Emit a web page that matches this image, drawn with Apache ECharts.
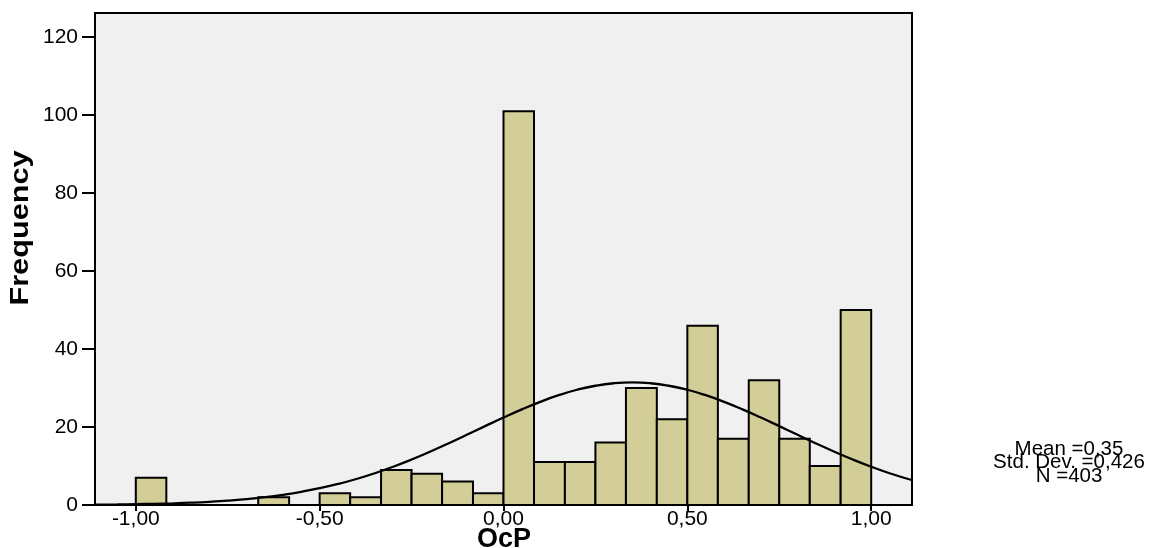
<!DOCTYPE html>
<html>
<head>
<meta charset="utf-8">
<script src="https://cdn.jsdelivr.net/npm/echarts@6/dist/echarts.min.js"></script>
<style>
html,body{margin:0;padding:0;background:#fff;}
#chart{width:1152px;height:548px;}
</style>
</head>
<body>
<div id="chart"></div>
<script>
// Histogram bin edges (bin width 1/12)
const binEdges = [-1.000, -0.917, -0.833, -0.750, -0.667, -0.583, -0.500, -0.417, -0.333, -0.250, -0.167, -0.083,
                  0.000, 0.083, 0.167, 0.250, 0.333, 0.417, 0.500, 0.583, 0.667, 0.750, 0.833, 0.917, 1.000];
// Frequencies per bin
const binCounts = [7, 0, 0, 0, 2, 0, 3, 2, 9, 8, 6, 3,
                   101, 11, 11, 16, 30, 22, 46, 17, 32, 17, 10, 50];
// Normal curve
const curveX = [-1.11, -1.05, -1.00, -0.95, -0.90, -0.85, -0.80, -0.75, -0.70, -0.65, -0.60, -0.55, -0.50, -0.45, -0.40, -0.35,
                -0.30, -0.25, -0.20, -0.15, -0.10, -0.05, 0.00, 0.05, 0.10, 0.15, 0.20, 0.25, 0.30, 0.35, 0.40, 0.45,
                0.50, 0.55, 0.60, 0.65, 0.70, 0.75, 0.80, 0.85, 0.90, 0.95, 1.00, 1.05, 1.11];
const curveY = [0.09, 0.14, 0.21, 0.30, 0.42, 0.59, 0.82, 1.12, 1.51, 2.00, 2.62, 3.38, 4.30, 5.39, 6.67, 8.15,
                9.82, 11.66, 13.67, 15.79, 18.01, 20.24, 22.44, 24.54, 26.47, 28.17, 29.56, 30.59, 31.23, 31.45, 31.23, 30.59,
                29.56, 28.17, 26.47, 24.54, 22.44, 20.24, 18.01, 15.79, 13.67, 11.66, 9.82, 8.15, 6.41];
const xTickValues = [-1.0, -0.5, 0.0, 0.5, 1.0];
const yTickValues = [0, 20, 40, 60, 80, 100, 120];
const statLines = ['Mean =0,35', 'Std. Dev. =0,426', 'N =403'];
const xTitle = 'OcP';
const yTitle = 'Frequency';

const FONT = '"Liberation Sans", Arial, Helvetica, sans-serif';

const barData = [];
for (let i = 0; i < binCounts.length; i++) {
  if (binCounts[i] > 0) barData.push([binEdges[i], binEdges[i + 1], binCounts[i]]);
}
const curveData = curveX.map((x, i) => [x, curveY[i]]);

const chart = echarts.init(document.getElementById('chart'), null, {renderer: 'canvas'});
chart.setOption({
  animation: false,
  backgroundColor: '#ffffff',
  grid: {left: 95, right: 240, top: 13, bottom: 43, show: true,
         backgroundColor: '#f0f0f0', borderColor: '#000', borderWidth: 2},
  xAxis: {
    type: 'value', min: -1.111, max: 1.111,
    axisLine: {show: true, onZero: false, lineStyle: {color: '#000', width: 2}},
    axisTick: {show: true, length: 6, customValues: xTickValues, lineStyle: {color: '#000', width: 2}},
    axisLabel: {customValues: xTickValues, color: '#000', fontSize: 21, fontFamily: FONT, margin: 4,
                formatter: v => v.toFixed(2).replace('.', ',')},
    splitLine: {show: false}
  },
  yAxis: {
    type: 'value', min: 0, max: 126.2,
    axisLine: {show: true, onZero: false, lineStyle: {color: '#000', width: 2}},
    axisTick: {show: true, length: 13, customValues: yTickValues, lineStyle: {color: '#000', width: 2}},
    axisLabel: {customValues: yTickValues, color: '#000', fontSize: 21, fontFamily: FONT, margin: 17},
    splitLine: {show: false}
  },
  series: [
    {
      type: 'custom',
      data: barData,
      clip: true,
      renderItem: function (params, api) {
        const p0 = api.coord([api.value(0), api.value(2)]);
        const p1 = api.coord([api.value(1), 0]);
        return {
          type: 'rect',
          shape: {x: p0[0], y: p0[1], width: p1[0] - p0[0], height: p1[1] - p0[1]},
          style: {fill: '#d3ce97', stroke: '#000', lineWidth: 2}
        };
      },
      z: 2
    },
    {
      type: 'line',
      data: curveData,
      smooth: true,
      symbol: 'none',
      clip: true,
      lineStyle: {color: '#000', width: 2.3},
      z: 3
    }
  ],
  graphic: [
    {type: 'text', x: 21, y: 228, rotation: Math.PI / 2, scaleX: 1.18,
     style: {text: yTitle, fill: '#000', font: 'bold 26px ' + FONT, align: 'center', verticalAlign: 'middle'}},
    {type: 'text', x: 504, y: 540,
     style: {text: xTitle, fill: '#000', font: 'bold 27px ' + FONT, align: 'center', verticalAlign: 'middle'}},
    {type: 'text', x: 1069, y: 449,
     style: {text: statLines[0], fill: '#000', font: '20.5px ' + FONT, align: 'center', verticalAlign: 'middle'}},
    {type: 'text', x: 1069, y: 462,
     style: {text: statLines[1], fill: '#000', font: '20.5px ' + FONT, align: 'center', verticalAlign: 'middle'}},
    {type: 'text', x: 1069, y: 476,
     style: {text: statLines[2], fill: '#000', font: '20.5px ' + FONT, align: 'center', verticalAlign: 'middle'}}
  ]
});
</script>
</body>
</html>
